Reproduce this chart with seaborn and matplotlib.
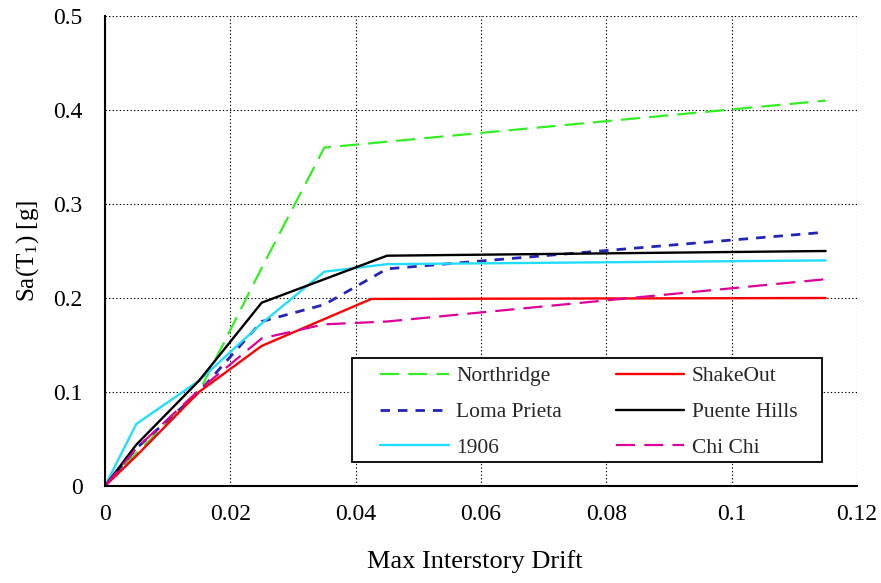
import matplotlib
matplotlib.use("Agg")
import matplotlib.pyplot as plt
from matplotlib.patches import Rectangle
import seaborn as sns
import pandas as pd

# ---- data ----
northridge_x = [0, 0.005, 0.015, 0.025, 0.035, 0.115]
northridge_y = [0, 0.035, 0.100, 0.232, 0.360, 0.410]

loma_x = [0, 0.005, 0.015, 0.025, 0.035, 0.045, 0.115]
loma_y = [0, 0.040, 0.100, 0.175, 0.193, 0.231, 0.270]

y1906_x = [0, 0.005, 0.015, 0.025, 0.035, 0.045, 0.115]
y1906_y = [0, 0.066, 0.112, 0.173, 0.228, 0.236, 0.240]

shakeout_x = [0, 0.005, 0.015, 0.025, 0.0425, 0.115]
shakeout_y = [0, 0.032, 0.100, 0.149, 0.199, 0.200]

puente_x = [0, 0.005, 0.015, 0.025, 0.045, 0.115]
puente_y = [0, 0.044, 0.112, 0.195, 0.245, 0.250]

chichi_x = [0, 0.005, 0.015, 0.025, 0.035, 0.045, 0.115]
chichi_y = [0, 0.040, 0.102, 0.157, 0.172, 0.175, 0.220]

series_names = ["Northridge", "Loma Prieta", "1906", "ShakeOut", "Puente Hills", "Chi Chi"]
x_ticks = [0, 0.02, 0.04, 0.06, 0.08, 0.1, 0.12]
x_tick_labels = ["0", "0.02", "0.04", "0.06", "0.08", "0.1", "0.12"]
y_ticks = [0, 0.1, 0.2, 0.3, 0.4, 0.5]
y_tick_labels = ["0", "0.1", "0.2", "0.3", "0.4", "0.5"]

series = [
    (northridge_x, northridge_y),
    (loma_x, loma_y),
    (y1906_x, y1906_y),
    (shakeout_x, shakeout_y),
    (puente_x, puente_y),
    (chichi_x, chichi_y),
]

styles = {
    "Northridge": dict(color="#33ee22", lw=1.6, ls=(0, (8.6, 4.1))),
    "Loma Prieta": dict(color="#2424bb", lw=2.0, ls=(0, (3.4, 2.9))),
    "1906": dict(color="#22ddff", lw=1.7, ls="-"),
    "ShakeOut": dict(color="#ff0000", lw=1.7, ls="-"),
    "Puente Hills": dict(color="#000000", lw=1.7, ls="-"),
    "Chi Chi": dict(color="#dd0099", lw=1.6, ls=(0, (8.6, 4.1))),
}

sns.set_style("white")
plt.rcParams["font.family"] = ["Liberation Serif", "DejaVu Serif"]
plt.rcParams["mathtext.fontset"] = "custom"
plt.rcParams["mathtext.rm"] = "Liberation Serif"
plt.rcParams["mathtext.it"] = "Liberation Serif:italic"

fig = plt.figure(figsize=(8.81, 5.83), dpi=100)
ax = fig.add_axes([105 / 881, 1 - 486 / 583, 752 / 881, 470 / 583])

for name, (xs, ys) in zip(series_names, series):
    df = pd.DataFrame({"x": xs, "y": ys})
    st = styles[name]
    sns.lineplot(data=df, x="x", y="y", ax=ax, sort=False, errorbar=None,
                 color=st["color"], linewidth=st["lw"], linestyle=st["ls"],
                 label=name)

ax.set_xlim(0, 0.12)
ax.set_ylim(0, 0.5)
ax.set_xticks(x_ticks)
ax.set_xticklabels(x_tick_labels)
ax.set_yticks(y_ticks)
ax.set_yticklabels(y_tick_labels)

ax.grid(True, color="black", linestyle=(0, (1.2, 2.0)), linewidth=0.8)
ax.set_axisbelow(True)
for s in ["top", "right"]:
    ax.spines[s].set_visible(False)
for s in ["left", "bottom"]:
    ax.spines[s].set_color("black")
    ax.spines[s].set_linewidth(1.5)

ax.tick_params(axis="both", which="major", direction="out", length=6,
               width=1.2, color="black", labelsize=17, labelcolor="black")
ax.tick_params(axis="y", pad=10)
ax.tick_params(axis="x", pad=7)

ax.set_xlabel("Max Interstory Drift", fontsize=19, color="black")
ax.set_ylabel(r"Sa(T$_{\mathrm{1}}$) [g]", fontsize=18, color="black")
ax.xaxis.set_label_coords(0.492, -0.136)
ax.yaxis.set_label_coords(-0.085, 0.5)

# legend frame drawn separately
frame = Rectangle((0.3285, 0.0511), 0.625, 0.2213, transform=ax.transAxes,
                  facecolor="white", edgecolor="black", linewidth=1.3, zorder=5)
ax.add_patch(frame)

leg = ax.legend(loc="upper left", bbox_to_anchor=(0.3657, 0.2545),
                ncol=2, fontsize=15.5, frameon=False,
                handlelength=3.2, handletextpad=0.33, borderaxespad=0,
                labelspacing=0.73, borderpad=0, columnspacing=2.5)
leg.set_zorder(6)

fig.savefig("out.png", dpi=100)
